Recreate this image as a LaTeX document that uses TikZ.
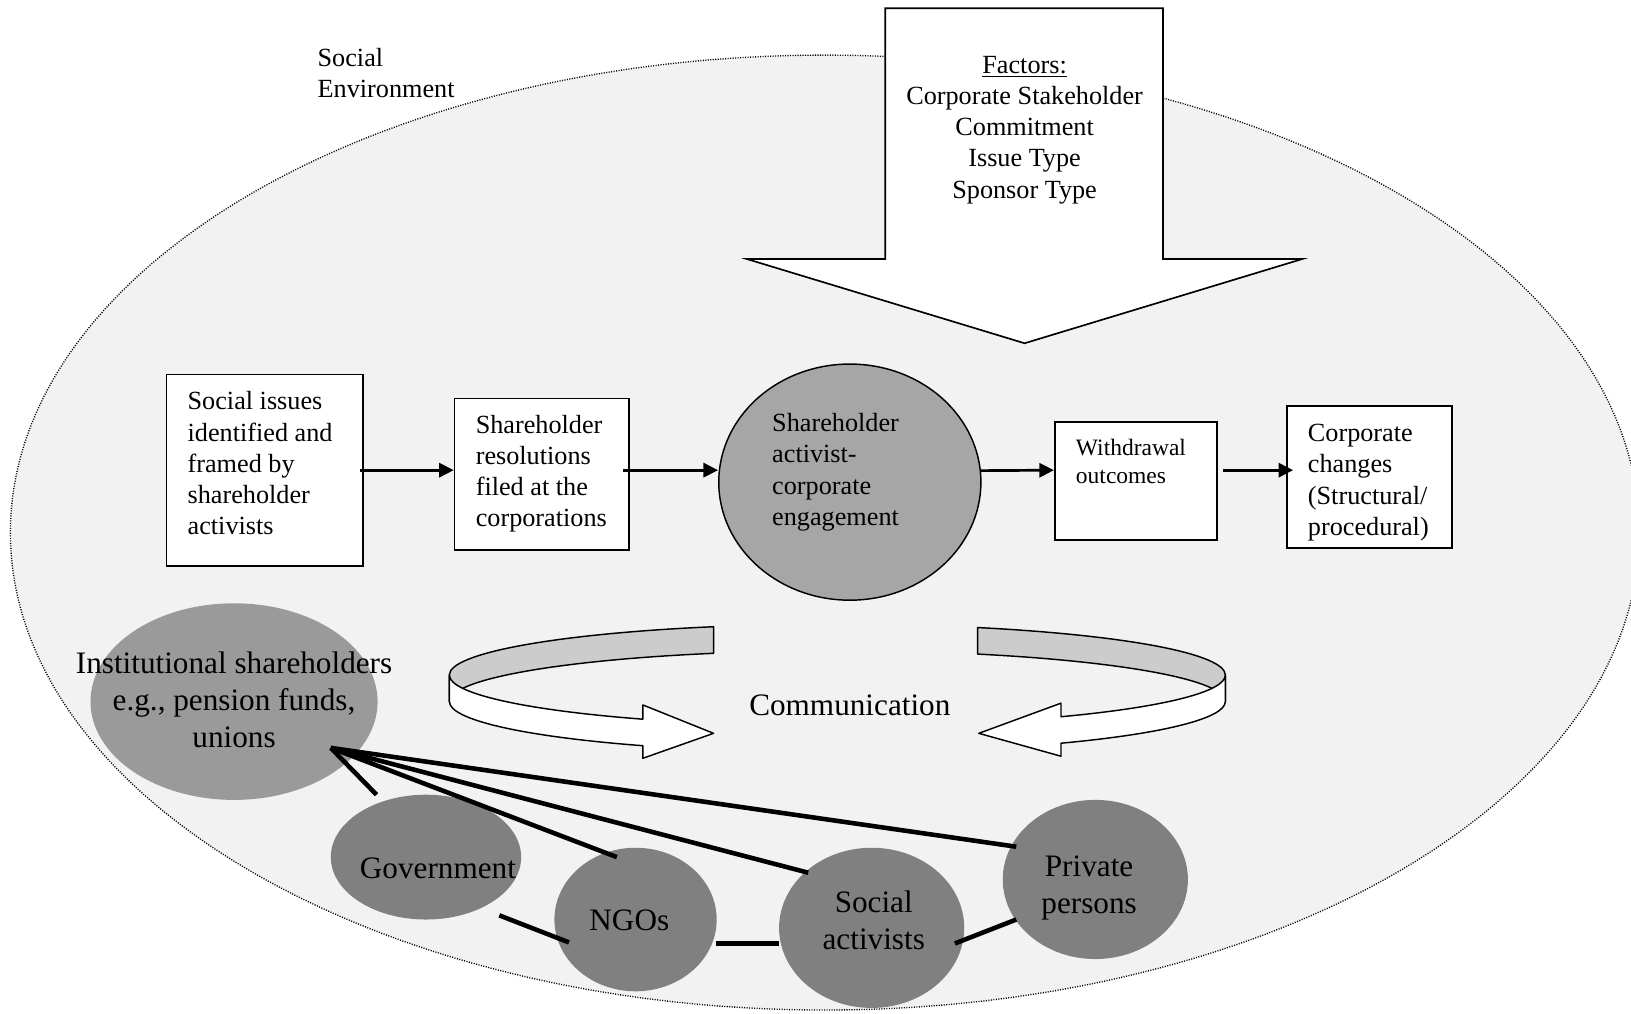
\documentclass[tikz,border=0pt]{standalone}
\usepackage{fontspec}
\setmainfont{Liberation Serif}
\usetikzlibrary{calc,arrows.meta,shapes.geometric}

\definecolor{envfill}{HTML}{F2F2F2}
\definecolor{hubfill}{HTML}{A6A6A6}
\definecolor{instfill}{HTML}{9A9A9A}
\definecolor{actorfill}{HTML}{808080}
\definecolor{bandfill}{HTML}{CCCCCC}

\begin{document}
\begin{tikzpicture}[x=0.5pt,y=-0.5pt,
  stagebox/.style={draw, line width=0.85pt, fill=white, rectangle, inner sep=0pt},
  flow/.style={line width=1.3pt, -{Triangle[length=7pt,width=6.8pt]}},
  actor/.style={ellipse, fill=actorfill, inner sep=0pt},
  tie/.style={line width=2.2pt},
  band/.style={draw, line width=0.7pt, line join=round},
  txt/.style={inner sep=0pt, font=\fontsize{12.6}{15}\selectfont},
  smalltxt/.style={inner sep=0pt, font=\fontsize{11.3}{13.5}\selectfont},
  bigtxt/.style={inner sep=0pt, align=center, font=\fontsize{15}{17.8}\selectfont},
]
\useasboundingbox (0,0) rectangle (1568,974);
\fill[white] (0,0) rectangle (1568,974);

% social environment
\node[ellipse, draw, fill=envfill, line width=0.65pt, dash pattern=on 0.5pt off 0.7pt,
      minimum width=783pt, minimum height=459pt, inner sep=0pt] (env) at (793,512) {};
\node[txt, align=left, anchor=west] (envT) at (305,70) {Social\\Environment};

% factors arrow
\draw[fill=white, line width=0.8pt] (851,8) -- (1118,8) -- (1118,249) -- (1252,249)
  -- (985,330) -- (718,249) -- (851,249) -- cycle;
\node[txt, align=center] (factors) at (985,125)
  {\underline{Factors:}\\Corporate Stakeholder\\Commitment\\Issue Type\\Sponsor Type};

% process chain
\node[stagebox, minimum width=94.5pt, minimum height=92pt] (issues) at (254.5,452) {};
\node[stagebox, minimum width=84pt, minimum height=73pt] (filed) at (521,456) {};
\node[ellipse, draw, fill=hubfill, line width=0.7pt, minimum width=126pt,
      minimum height=113.5pt, inner sep=0pt] (engage) at (817,463.5) {};
\node[stagebox, minimum width=78pt, minimum height=56.5pt] (withdraw) at (1092,462.5) {};
\node[stagebox, minimum width=79.5pt, minimum height=68.5pt] (changes) at (1316.5,458.5) {};

\node[txt, align=left, anchor=west] (issuesT) at (180,445.5)
  {Social issues\\identified and\\framed by\\shareholder\\activists};
\node[txt, align=left, anchor=west] (filedT) at (457,455.5)
  {Shareholder\\resolutions\\filed at the\\corporations};
\node[txt, align=left, anchor=west] (engageT) at (742,454)
  {Shareholder\\activist-\\corporate\\engagement};
\node[smalltxt, align=left, anchor=west] (withdrawT) at (1034,444)
  {Withdrawal\\outcomes};
\node[txt, align=left, anchor=west] (changesT) at (1257,464)
  {Corporate\\changes\\(Structural/\\procedural)};

\draw[flow, shorten <=-2pt] (issues.east) -- (issues.east -| filed.west);
\draw[flow, shorten <=-3.5pt] (filed.east |- issues.east) -- (engage.west |- issues.east);
\draw[flow] (engage.5) -- (withdraw.west |- issues.east);
\draw[flow, shorten <=2.5pt, shorten >=-3.5pt] (withdraw.east |- issues.east) -- (changes.west |- issues.east);

% communication ribbons: inner faces
\draw[band, fill=bandfill] (686,602.5)
  arc[start angle=251.4, end angle=180, x radius=373, y radius=49] -- (432,674.5)
  arc[start angle=180, end angle=251.4, x radius=373, y radius=49] -- cycle;
\draw[band, fill=bandfill] (939.9,603.3)
  arc[start angle=291.2, end angle=360, x radius=373, y radius=49] -- (1178,674.5)
  arc[start angle=360, end angle=291.2, x radius=373, y radius=49] -- cycle;
% communication ribbons: outer faces with heads
\draw[band, fill=white] (432,649)
  arc[start angle=180, end angle=120.1, x radius=373, y radius=49]
  -- (618,677.7) -- (686,705) -- (618,729) -- (618.03,716.9)
  arc[start angle=120.1, end angle=180, x radius=373, y radius=49] -- cycle;
\draw[band, fill=white] (1178,649)
  arc[start angle=0, end angle=54.8, x radius=373, y radius=49]
  -- (1020,676) -- (941,705) -- (1020,727) -- (1020,714.5)
  arc[start angle=54.8, end angle=0, x radius=373, y radius=49] -- cycle;
\node[bigtxt] (comm) at (817,678) {Communication};

% stakeholder network
\node[ellipse, fill=instfill, inner sep=0pt, minimum width=138pt, minimum height=94.5pt] (inst) at (225,674.5) {};
\node[actor, minimum width=91.5pt, minimum height=60pt] (gov) at (409.5,824) {};
\node[actor, minimum width=78pt, minimum height=69pt] (ngo) at (611,884) {};
\node[actor, minimum width=89pt, minimum height=77pt] (soc) at (838,892) {};
\node[actor, minimum width=89pt, minimum height=76.5pt] (priv) at (1053,845.5) {};

\coordinate (hub) at ($(inst.center)+(93,44.5)$);
\draw[tie] (hub) -- ($(gov.center)+(-47.5,-60)$);
\draw[tie] (hub) -- ($(ngo.center)+(-18,-60)$);
\draw[tie] (hub) -- ($(soc.center)+(-61,-53)$);
\draw[tie] (hub) -- ($(priv.center)+(-76,-31.5)$);
\draw[tie] ($(gov.center)+(70.5,56)$) -- ($(ngo.center)+(-64,22)$);
\draw[tie] ($(ngo.center)+(77,23)$) -- ($(soc.center)+(-89,15)$);
\draw[tie] ($(soc.center)+(80,15)$) -- ($(priv.center)+(-76,38.5)$);

\node[bigtxt] (instT) at (225,673) {Institutional shareholders\\e.g., pension funds,\\unions};
\node[bigtxt] (govT) at (421,835) {Government};
\node[bigtxt] (ngoT) at (605,885) {NGOs};
\node[bigtxt] (socT) at (840,885) {Social\\activists};
\node[bigtxt] (privT) at (1047,854) {Private\\persons};
\end{tikzpicture}
\end{document}
